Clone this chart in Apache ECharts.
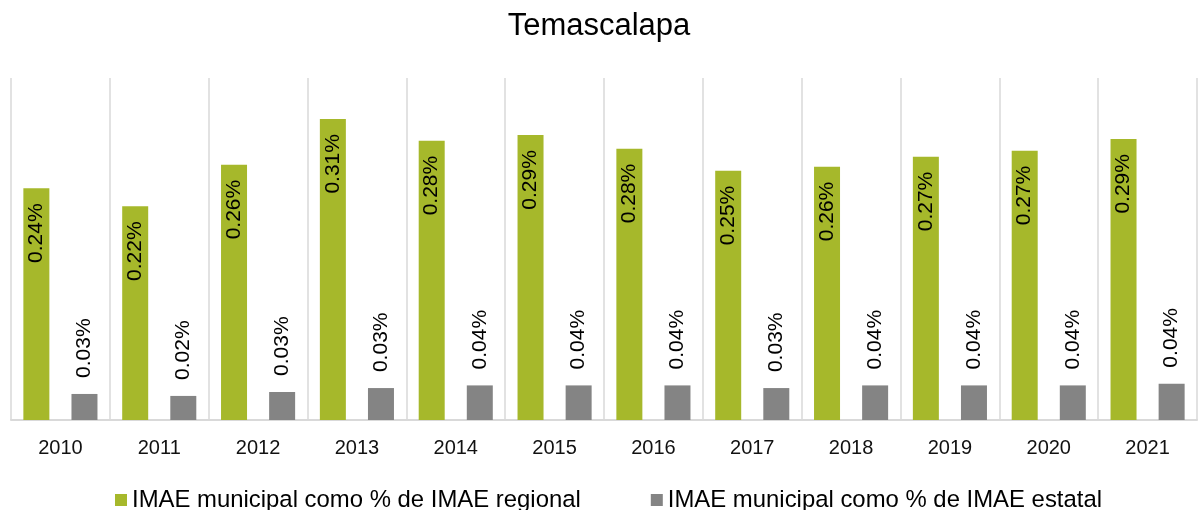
<!DOCTYPE html>
<html>
<head>
<meta charset="utf-8">
<script src="https://cdn.jsdelivr.net/npm/echarts@6/dist/echarts.min.js"></script>
<style>
  html, body { margin: 0; padding: 0; background: #fff; }
  #chart { width: 1198px; height: 510px; }
</style>
</head>
<body>
<div id="chart"></div>
<script>
// datos (valores en %)
const years = ['2010', '2011', '2012', '2013', '2014', '2015', '2016', '2017', '2018', '2019', '2020', '2021'];
const regionalShare = [0.2357, 0.2174, 0.2597, 0.3062, 0.2841, 0.2899, 0.2760, 0.2536, 0.2577, 0.2679, 0.2740, 0.2859];
const stateShare = [0.0265, 0.0245, 0.0285, 0.0325, 0.0352, 0.0352, 0.0352, 0.0325, 0.0352, 0.0352, 0.0352, 0.0370];
const seriesNames = ['IMAE municipal como % de IMAE regional', 'IMAE municipal como % de IMAE estatal'];
const colors = ['#a6b82b', '#848484'];

const fontFamily = 'Liberation Sans, Arial, sans-serif';
const fmt = p => p.value.toFixed(2) + '%';

const chart = echarts.init(document.getElementById('chart'));
const option = {
    animation: false,
    color: colors,
    title: {
        text: 'Temascalapa',
        left: 'center',
        top: 6,
        textStyle: { fontFamily: fontFamily, fontSize: 31, fontWeight: 'normal', color: '#000' }
    },
    legend: {
        data: seriesNames,
        left: 110,
        top: 483,
        itemWidth: 12,
        itemHeight: 12,
        itemGap: 70,
        icon: 'rect',
        textStyle: { fontFamily: fontFamily, fontSize: 23.9, color: '#000' }
    },
    grid: { left: 11, right: 1, top: 78, bottom: 90 },
    xAxis: {
        type: 'category',
        data: years,
        axisTick: { show: false },
        axisLine: { lineStyle: { color: '#d9d9d9', width: 2 } },
        axisLabel: {
            interval: 0,
            margin: 18,
            fontFamily: fontFamily,
            fontSize: 20,
            color: '#111'
        },
        splitLine: { show: true, interval: 0, lineStyle: { color: '#d9d9d9', width: 1.5 } }
    },
    yAxis: {
        type: 'value',
        min: 0,
        max: 0.348,
        show: false,
        splitLine: { show: false }
    },
    series: [
        {
            name: seriesNames[0],
            type: 'bar',
            data: regionalShare,
            barWidth: 26,
            barGap: '85%',
            label: {
                show: true,
                position: 'insideTop',
                rotate: 90,
                align: 'right',
                verticalAlign: 'middle',
                distance: 15,
                formatter: fmt,
                fontFamily: fontFamily,
                fontSize: 21,
                color: '#000'
            }
        },
        {
            name: seriesNames[1],
            type: 'bar',
            data: stateShare,
            barWidth: 26,
            label: {
                show: true,
                position: 'top',
                rotate: 90,
                align: 'left',
                verticalAlign: 'middle',
                distance: 16,
                formatter: fmt,
                fontFamily: fontFamily,
                fontSize: 21,
                color: '#000'
            }
        }
    ]
};
chart.setOption(option);
</script>
</body>
</html>
